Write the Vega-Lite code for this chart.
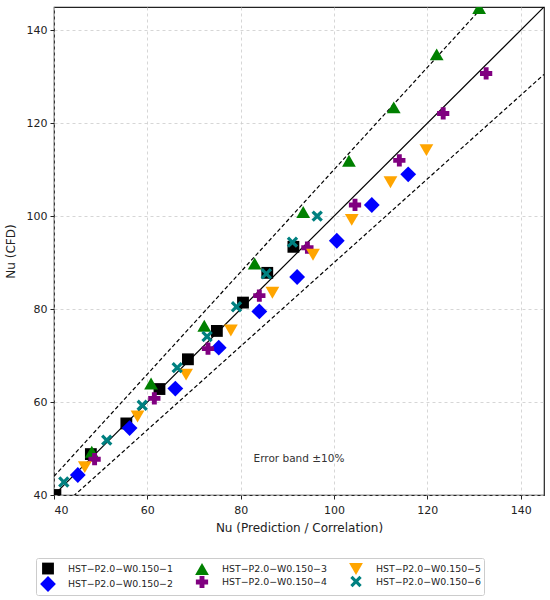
{
  "$schema": "https://vega.github.io/schema/vega-lite/v6.json",
  "width": 490,
  "height": 488,
  "padding": {"left": 4, "top": 7, "right": 7, "bottom": 5},
  "datasets": {
    "points": [
      {"series": "HST−P2.0−W0.150−1", "pred": 40.3, "cfd": 40.0},
      {"series": "HST−P2.0−W0.150−1", "pred": 47.9, "cfd": 48.8},
      {"series": "HST−P2.0−W0.150−1", "pred": 55.5, "cfd": 55.4},
      {"series": "HST−P2.0−W0.150−1", "pred": 62.6, "cfd": 62.8},
      {"series": "HST−P2.0−W0.150−1", "pred": 68.7, "cfd": 69.2},
      {"series": "HST−P2.0−W0.150−1", "pred": 74.9, "cfd": 75.3},
      {"series": "HST−P2.0−W0.150−1", "pred": 80.5, "cfd": 81.4},
      {"series": "HST−P2.0−W0.150−1", "pred": 85.7, "cfd": 87.8},
      {"series": "HST−P2.0−W0.150−1", "pred": 91.3, "cfd": 93.4},
      {"series": "HST−P2.0−W0.150−2", "pred": 45.1, "cfd": 44.3},
      {"series": "HST−P2.0−W0.150−2", "pred": 56.2, "cfd": 54.4},
      {"series": "HST−P2.0−W0.150−2", "pred": 66.0, "cfd": 62.9},
      {"series": "HST−P2.0−W0.150−2", "pred": 75.3, "cfd": 71.7},
      {"series": "HST−P2.0−W0.150−2", "pred": 84.0, "cfd": 79.5},
      {"series": "HST−P2.0−W0.150−2", "pred": 92.1, "cfd": 86.9},
      {"series": "HST−P2.0−W0.150−2", "pred": 100.6, "cfd": 94.7},
      {"series": "HST−P2.0−W0.150−2", "pred": 108.1, "cfd": 102.4},
      {"series": "HST−P2.0−W0.150−2", "pred": 115.9, "cfd": 109.0},
      {"series": "HST−P2.0−W0.150−3", "pred": 48.1, "cfd": 49.3},
      {"series": "HST−P2.0−W0.150−3", "pred": 60.8, "cfd": 64.0},
      {"series": "HST−P2.0−W0.150−3", "pred": 72.2, "cfd": 76.4},
      {"series": "HST−P2.0−W0.150−3", "pred": 83.0, "cfd": 89.8},
      {"series": "HST−P2.0−W0.150−3", "pred": 93.4, "cfd": 100.9},
      {"series": "HST−P2.0−W0.150−3", "pred": 103.2, "cfd": 111.9},
      {"series": "HST−P2.0−W0.150−3", "pred": 112.8, "cfd": 123.4},
      {"series": "HST−P2.0−W0.150−3", "pred": 122.0, "cfd": 134.8},
      {"series": "HST−P2.0−W0.150−3", "pred": 131.1, "cfd": 144.8},
      {"series": "HST−P2.0−W0.150−4", "pred": 48.7, "cfd": 47.7},
      {"series": "HST−P2.0−W0.150−4", "pred": 61.5, "cfd": 60.8},
      {"series": "HST−P2.0−W0.150−4", "pred": 73.0, "cfd": 71.5},
      {"series": "HST−P2.0−W0.150−4", "pred": 84.0, "cfd": 82.9},
      {"series": "HST−P2.0−W0.150−4", "pred": 94.3, "cfd": 93.2},
      {"series": "HST−P2.0−W0.150−4", "pred": 104.5, "cfd": 102.4},
      {"series": "HST−P2.0−W0.150−4", "pred": 114.0, "cfd": 112.0},
      {"series": "HST−P2.0−W0.150−4", "pred": 123.4, "cfd": 122.1},
      {"series": "HST−P2.0−W0.150−4", "pred": 132.6, "cfd": 130.7},
      {"series": "HST−P2.0−W0.150−5", "pred": 46.6, "cfd": 46.0},
      {"series": "HST−P2.0−W0.150−5", "pred": 57.9, "cfd": 56.9},
      {"series": "HST−P2.0−W0.150−5", "pred": 68.3, "cfd": 65.9},
      {"series": "HST−P2.0−W0.150−5", "pred": 77.9, "cfd": 75.4},
      {"series": "HST−P2.0−W0.150−5", "pred": 86.8, "cfd": 83.5},
      {"series": "HST−P2.0−W0.150−5", "pred": 95.5, "cfd": 91.7},
      {"series": "HST−P2.0−W0.150−5", "pred": 103.8, "cfd": 99.2},
      {"series": "HST−P2.0−W0.150−5", "pred": 112.1, "cfd": 107.3},
      {"series": "HST−P2.0−W0.150−5", "pred": 119.8, "cfd": 114.2},
      {"series": "HST−P2.0−W0.150−6", "pred": 42.1, "cfd": 42.8},
      {"series": "HST−P2.0−W0.150−6", "pred": 51.3, "cfd": 51.8},
      {"series": "HST−P2.0−W0.150−6", "pred": 58.9, "cfd": 59.3},
      {"series": "HST−P2.0−W0.150−6", "pred": 66.4, "cfd": 67.4},
      {"series": "HST−P2.0−W0.150−6", "pred": 72.8, "cfd": 74.1},
      {"series": "HST−P2.0−W0.150−6", "pred": 79.1, "cfd": 80.5},
      {"series": "HST−P2.0−W0.150−6", "pred": 85.5, "cfd": 87.6},
      {"series": "HST−P2.0−W0.150−6", "pred": 91.1, "cfd": 94.4},
      {"series": "HST−P2.0−W0.150−6", "pred": 96.4, "cfd": 100.0}
    ],
    "ideal": [
      {"pred": 40, "cfd": 40},
      {"pred": 145, "cfd": 145}
    ],
    "band": [
      {"band": "upper", "pred": 40, "cfd": 44},
      {"band": "upper", "pred": 145, "cfd": 159.5},
      {"band": "lower", "pred": 40, "cfd": 36},
      {"band": "lower", "pred": 145, "cfd": 130.5}
    ],
    "note": [
      {"pred": 92.5, "cfd": 47.7, "label": "Error band ±10%"}
    ]
  },
  "layer": [
    {
      "data": {"name": "band"},
      "mark": {"type": "line", "clip": true, "color": "black", "strokeWidth": 1.2, "strokeDash": [4, 2.5]},
      "encoding": {
        "x": {"field": "pred", "type": "quantitative"},
        "y": {"field": "cfd", "type": "quantitative"},
        "detail": {"field": "band"}
      }
    },
    {
      "data": {"name": "ideal"},
      "mark": {"type": "line", "clip": true, "color": "black", "strokeWidth": 1.2},
      "encoding": {
        "x": {"field": "pred", "type": "quantitative"},
        "y": {"field": "cfd", "type": "quantitative"}
      }
    },
    {
      "data": {"name": "points"},
      "mark": {"type": "point", "filled": true, "opacity": 1, "clip": true},
      "encoding": {
        "x": {
          "field": "pred",
          "type": "quantitative",
          "scale": {"domain": [40, 145], "nice": false, "zero": false},
          "axis": {"title": "Nu (Prediction / Correlation)", "values": [40, 60, 80, 100, 120, 140], "labelPadding": 5, "titlePadding": 7}
        },
        "y": {
          "field": "cfd",
          "type": "quantitative",
          "scale": {"domain": [40, 145], "nice": false, "zero": false},
          "axis": {"title": "Nu (CFD)", "values": [40, 60, 80, 100, 120, 140], "titlePadding": 9}
        },
        "color": {
          "field": "series",
          "type": "nominal",
          "scale": {
            "domain": ["HST−P2.0−W0.150−1", "HST−P2.0−W0.150−3", "HST−P2.0−W0.150−5", "HST−P2.0−W0.150−2", "HST−P2.0−W0.150−4", "HST−P2.0−W0.150−6"],
            "range": ["black", "green", "orange", "blue", "purple", "teal"]
          },
          "legend": {
            "title": null,
            "orient": "none",
            "legendX": -18,
            "legendY": 551,
            "direction": "horizontal",
            "columns": 3,
            "columnPadding": 20,
            "rowPadding": 0,
            "labelFontSize": 9.4,
            "labelOffset": 11,
            "padding": 3,
            "strokeColor": "#cccccc",
            "cornerRadius": 2
          }
        },
        "shape": {
          "field": "series",
          "type": "nominal",
          "scale": {
            "domain": ["HST−P2.0−W0.150−1", "HST−P2.0−W0.150−3", "HST−P2.0−W0.150−5", "HST−P2.0−W0.150−2", "HST−P2.0−W0.150−4", "HST−P2.0−W0.150−6"],
            "range": ["square", "triangle-up", "triangle-down", "diamond", "cross", "M-1,-0.6L-0.6,-1L0,-0.4L0.6,-1L1,-0.6L0.4,0L1,0.6L0.6,1L0,0.4L-0.6,1L-1,0.6L-0.4,0Z"]
          }
        },
        "size": {
          "field": "series",
          "type": "nominal",
          "scale": {
            "type": "ordinal",
            "domain": ["HST−P2.0−W0.150−1", "HST−P2.0−W0.150−3", "HST−P2.0−W0.150−5", "HST−P2.0−W0.150−2", "HST−P2.0−W0.150−4", "HST−P2.0−W0.150−6"],
            "range": [140, 190, 190, 250, 150, 130]
          }
        }
      }
    },
    {
      "data": {"name": "note"},
      "mark": {"type": "text", "fontSize": 10.5, "color": "#333333", "font": "DejaVu Sans"},
      "encoding": {
        "x": {"field": "pred", "type": "quantitative"},
        "y": {"field": "cfd", "type": "quantitative"},
        "text": {"field": "label"}
      }
    }
  ],
  "config": {
    "font": "DejaVu Sans",
    "view": {"stroke": "#222222", "strokeWidth": 1.2},
    "axis": {
      "domain": false,
      "grid": true,
      "gridColor": "#cccccc",
      "gridDash": [3, 3],
      "gridWidth": 0.8,
      "tickColor": "#222222",
      "tickSize": 4,
      "labelFontSize": 11,
      "labelColor": "#222222",
      "titleFontSize": 12,
      "titleFontWeight": "normal",
      "titleColor": "#222222",
      "labelPadding": 3
    },
    "legend": {"labelColor": "#222222"}
  }
}
